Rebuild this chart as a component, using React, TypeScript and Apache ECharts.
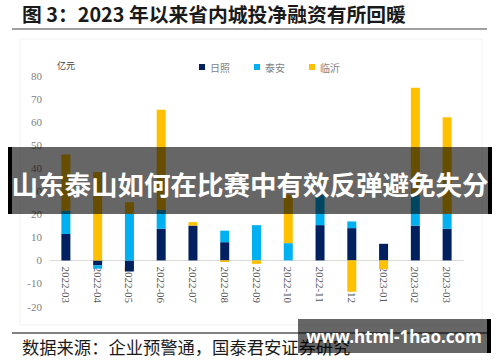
import React, { useEffect, useRef } from "react";
import * as echarts from "echarts";

const categories = [
  "2022-03", "2022-04", "2022-05", "2022-06", "2022-07", "2022-08", "2022-09",
  "2022-10", "2022-11", "2022-12", "2023-01", "2023-02", "2023-03",
];
const rizhao = [11.5, -2.2, -4.8, 13.7, 15.1, 7.9, 0, 0, 15.3, 14.0, 7.2, 15.1, 13.7];
const taian = [10.1, -1.4, 20.2, 8.2, 0, 5.0, 15.3, 7.5, 13.2, 2.9, 0, 13.4, 6.5];
const linyi = [24.3, 38.3, 5.0, 43.5, 1.5, -0.7, -1.5, 21.0, 0, -13.6, -3.8, 46.4, 41.9];
const seriesNames = ["日照", "泰安", "临沂"];
const yMin = -20;
const yMax = 80;
const yInterval = 10;

const titleText = "图 3：2023 年以来省内城投净融资有所回暖";
const unitText = "亿元";
const sourceText = "数据来源：企业预警通，国泰君安证券研究";
const bannerText = "山东泰山如何在比赛中有效反弹避免失分";
const watermarkText = "www.html-1hao.com";

export default function App() {
  const ref = useRef<HTMLDivElement>(null);
  useEffect(() => {
    if (!ref.current) return;
    const chart = echarts.init(ref.current, undefined, { renderer: "svg" });
    const colors = ["#002060", "#00B0F0", "#FFC000"];
    const datasets = [rizhao, taian, linyi];
    const gridTop = 76;
    const gridBottom = 55.5;
    const plotH = 362 - gridTop - gridBottom;
    const zeroOffset = (plotH * (0 - yMin)) / (yMax - yMin);
    chart.setOption({
      animation: false,
      backgroundColor: "#ffffff",
      grid: { left: 50, right: 37, top: gridTop, bottom: gridBottom },
      legend: {
        data: seriesNames,
        left: 194,
        top: 57,
        icon: "rect",
        itemWidth: 6,
        itemHeight: 6,
        itemGap: 24,
        textStyle: { fontSize: 10, color: "#7f7f7f", fontFamily: "Noto Sans CJK SC" },
      },
      xAxis: {
        type: "category",
        data: categories,
        position: "bottom",
        offset: -zeroOffset,
        axisLine: { show: true, onZero: false, lineStyle: { color: "#d9d9d9", width: 1 } },
        axisTick: { show: false },
        axisLabel: {
          rotate: -90,
          margin: 6,
          interval: 0,
          fontSize: 11,
          color: "#595959",
          fontFamily: "Liberation Serif",
        },
      },
      yAxis: {
        type: "value",
        min: yMin,
        max: yMax,
        interval: yInterval,
        axisLine: { show: false },
        axisTick: { show: false },
        splitLine: { show: false },
        axisLabel: {
          margin: 8,
          fontSize: 11,
          color: "#7f7f7f",
          fontFamily: "Liberation Serif",
        },
      },
      series: seriesNames.map((name, i) => ({
        name,
        type: "bar",
        stack: "total",
        barWidth: 9,
        data: datasets[i],
        itemStyle: { color: colors[i] },
      })),
      graphic: [
        {
          type: "text",
          left: 22,
          top: 4,
          style: {
            text: titleText,
            fontSize: 19.8,
            fontWeight: "bold",
            fill: "#1a1a1a",
            fontFamily: "Noto Sans CJK SC",
          },
        },
        {
          type: "line",
          shape: { x1: 12, y1: 29, x2: 487, y2: 29 },
          style: { stroke: "#7f7f7f", lineWidth: 1.5 },
        },
        {
          type: "rect",
          shape: { x: 20, y: 39, width: 462, height: 286 },
          style: { fill: "none", stroke: "#f2f2f2", lineWidth: 1 },
        },
        {
          type: "text",
          left: 57,
          top: 61,
          style: {
            text: unitText,
            fontSize: 9,
            fill: "#404040",
            fontFamily: "Noto Sans CJK SC",
          },
        },
        {
          type: "line",
          shape: { x1: 12, y1: 333, x2: 487, y2: 333 },
          style: { stroke: "#595959", lineWidth: 1.5 },
        },
        {
          type: "text",
          left: 22,
          top: 338,
          style: {
            text: sourceText,
            fontSize: 17.3,
            fill: "#1a1a1a",
            fontFamily: "Noto Sans CJK SC",
          },
        },
        {
          type: "group",
          z: 100,
          children: [
            {
              type: "rect",
              shape: { x: 8, y: 147, width: 484, height: 67 },
              style: { fill: "rgba(0,0,0,0.6)" },
              z: 100,
            },
            {
              type: "rect",
              shape: { x: 8, y: 147, width: 4, height: 67 },
              style: { fill: "#000000" },
              z: 101,
            },
            {
              type: "rect",
              shape: { x: 488, y: 147, width: 4, height: 67 },
              style: { fill: "#000000" },
              z: 101,
            },
            {
              type: "text",
              x: 250,
              y: 183,
              z: 102,
              style: {
                text: bannerText,
                fontSize: 26.5,
                fontWeight: "bold",
                fill: "#ffffff",
                align: "center",
                verticalAlign: "middle",
                fontFamily: "Noto Sans CJK SC",
              },
            },
            {
              type: "rect",
              shape: { x: 298, y: 319, width: 189, height: 34 },
              style: { fill: "rgba(0,0,0,0.6)" },
              z: 100,
            },
            {
              type: "rect",
              shape: { x: 487, y: 319, width: 4, height: 34 },
              style: { fill: "#000000" },
              z: 101,
            },
            {
              type: "text",
              x: 394,
              y: 336,
              z: 102,
              style: {
                text: watermarkText,
                fontSize: 17,
                fontWeight: "bold",
                fill: "#ffffff",
                align: "center",
                verticalAlign: "middle",
                fontFamily: "Noto Sans",
              },
            },
          ],
        },
      ],
    });
    return () => chart.dispose();
  }, []);
  return (
    <div
      ref={ref}
      style={{ position: "absolute", left: 0, top: 0, width: 500, height: 362 }}
    />
  );
}
